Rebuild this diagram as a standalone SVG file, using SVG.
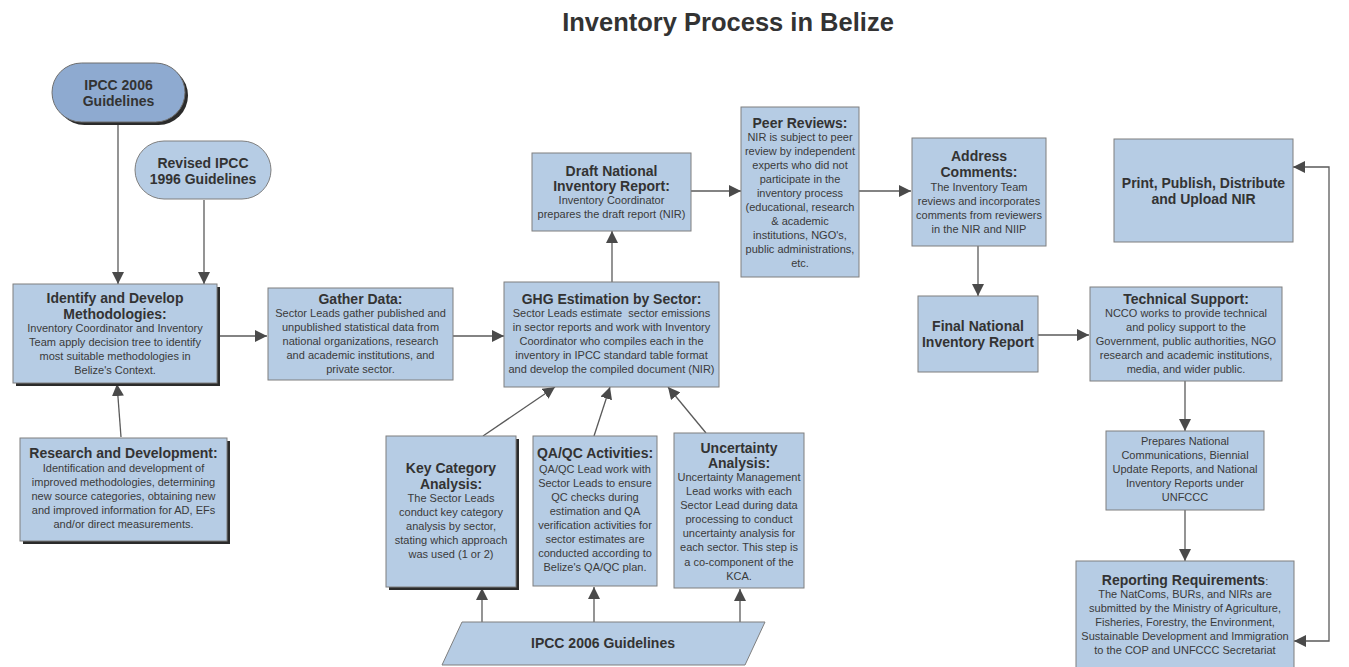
<svg xmlns="http://www.w3.org/2000/svg" width="1349" height="667" viewBox="0 0 1349 667">
<style>
.box{fill:#b6cce4;stroke:#7f7f7f;stroke-width:1}
.dark{fill:#8eaad0;stroke:#6f6f6f;stroke-width:1}
.sh{fill:#2b2b2b}
text{font-family:"Liberation Sans",Arial,sans-serif;fill:#333;text-anchor:middle}
.t{font-size:14px;font-weight:bold}
.b{font-size:11px;fill:#3a3a3a}
.ttl{font-size:25.5px;font-weight:bold}
.c{fill:none;stroke:#5a5a5a;stroke-width:1.3}
</style>
<defs>
<marker id="ah" viewBox="0 0 12 12" refX="12" refY="6" markerWidth="12" markerHeight="12" markerUnits="userSpaceOnUse" orient="auto-start-reverse">
<path d="M0,0 L12,6 L0,12 Z" fill="#4a4a4a"/>
</marker>
</defs>
<rect width="1349" height="667" fill="#ffffff"/>
<text class="ttl" x="728" y="31">Inventory Process in Belize</text>

<g id="connectors">
<line class="c" x1="118" y1="123" x2="118" y2="284" marker-end="url(#ah)"/>
<line class="c" x1="204" y1="200" x2="204" y2="284" marker-end="url(#ah)"/>
<line class="c" x1="121" y1="437" x2="117" y2="384" marker-end="url(#ah)"/>
<line class="c" x1="217" y1="336" x2="267" y2="336" marker-end="url(#ah)"/>
<line class="c" x1="453" y1="336" x2="504" y2="336" marker-end="url(#ah)"/>
<line class="c" x1="612" y1="282" x2="612" y2="231" marker-end="url(#ah)"/>
<line class="c" x1="691" y1="191" x2="741" y2="191" marker-end="url(#ah)"/>
<line class="c" x1="859" y1="191" x2="911" y2="191" marker-end="url(#ah)"/>
<line class="c" x1="978" y1="246" x2="978" y2="296" marker-end="url(#ah)"/>
<line class="c" x1="1038" y1="335" x2="1089" y2="335" marker-end="url(#ah)"/>
<line class="c" x1="1185" y1="381" x2="1185" y2="431" marker-end="url(#ah)"/>
<line class="c" x1="1185" y1="510" x2="1185" y2="561" marker-end="url(#ah)"/>
<path class="c" d="M1294,641 L1329,641 L1329,167 L1293,167" marker-start="url(#ah)" marker-end="url(#ah)"/>
<line class="c" x1="483" y1="436" x2="555" y2="387" marker-end="url(#ah)"/>
<line class="c" x1="594" y1="436" x2="610" y2="387" marker-end="url(#ah)"/>
<line class="c" x1="706" y1="433" x2="668" y2="387" marker-end="url(#ah)"/>
<line class="c" x1="482" y1="622" x2="482" y2="588" marker-end="url(#ah)"/>
<line class="c" x1="594" y1="622" x2="594" y2="587" marker-end="url(#ah)"/>
<line class="c" x1="740" y1="622" x2="740" y2="589" marker-end="url(#ah)"/>
</g>

<g id="ipcc2006">
<rect class="sh" x="55" y="66" width="133" height="59" rx="29.5"/>
<rect class="dark" x="52" y="63" width="133" height="59" rx="29.5"/>
<text class="t" x="118.5" y="90">IPCC 2006</text>
<text class="t" x="118.5" y="106">Guidelines</text>
</g>

<g id="revised">
<rect class="box" x="135" y="141" width="136" height="58" rx="29"/>
<text class="t" x="203" y="168">Revised IPCC</text>
<text class="t" x="203" y="184">1996 Guidelines</text>
</g>

<g id="identify">
<rect class="sh" x="16" y="287" width="204" height="99"/>
<rect class="box" x="13" y="284" width="204" height="99"/>
<text class="t" x="115" y="303">Identify and Develop</text>
<text class="t" x="115" y="319">Methodologies:</text>
<text class="b" x="115" y="332">Inventory Coordinator and Inventory</text>
<text class="b" x="115" y="346">Team apply decision tree to identify</text>
<text class="b" x="115" y="360">most suitable methodologies in</text>
<text class="b" x="115" y="374">Belize's Context.</text>
</g>

<g id="research">
<rect class="sh" x="23" y="441" width="207" height="103"/>
<rect class="box" x="20" y="438" width="207" height="103"/>
<text class="t" x="123.5" y="458">Research and Development:</text>
<text class="b" x="123.5" y="472">Identification and development of</text>
<text class="b" x="123.5" y="486">improved methodologies, determining</text>
<text class="b" x="123.5" y="500">new source categories, obtaining new</text>
<text class="b" x="123.5" y="514">and improved information for AD, EFs</text>
<text class="b" x="123.5" y="528">and/or direct measurements.</text>
</g>

<g id="gather">
<rect class="box" x="268" y="288" width="185" height="92"/>
<text class="t" x="360.5" y="304">Gather Data:</text>
<text class="b" x="360.5" y="317">Sector Leads gather published and</text>
<text class="b" x="360.5" y="331">unpublished statistical data from</text>
<text class="b" x="360.5" y="345">national organizations, research</text>
<text class="b" x="360.5" y="359">and academic institutions, and</text>
<text class="b" x="360.5" y="373">private sector.</text>
</g>

<g id="ghg">
<rect class="box" x="504" y="282" width="215" height="105"/>
<text class="t" x="611.5" y="304">GHG Estimation by Sector:</text>
<text class="b" x="611.5" y="317">Sector Leads estimate&#160; sector emissions</text>
<text class="b" x="611.5" y="331">in sector reports and work with Inventory</text>
<text class="b" x="611.5" y="345">Coordinator who compiles each in the</text>
<text class="b" x="611.5" y="359">inventory in IPCC standard table format</text>
<text class="b" x="611.5" y="373">and develop the compiled document (NIR)</text>
</g>

<g id="draft">
<rect class="box" x="532" y="153" width="159" height="78"/>
<text class="t" x="611.5" y="176">Draft National</text>
<text class="t" x="611.5" y="191">Inventory Report:</text>
<text class="b" x="611.5" y="204">Inventory Coordinator</text>
<text class="b" x="611.5" y="218">prepares the draft report (NIR)</text>
</g>

<g id="peer">
<rect class="box" x="741" y="107" width="118" height="170"/>
<text class="t" x="800" y="128">Peer Reviews:</text>
<text class="b" x="800" y="141">NIR is subject to peer</text>
<text class="b" x="800" y="155">review by independent</text>
<text class="b" x="800" y="169">experts who did not</text>
<text class="b" x="800" y="183">participate in the</text>
<text class="b" x="800" y="197">inventory process</text>
<text class="b" x="800" y="211">(educational, research</text>
<text class="b" x="800" y="225">&amp; academic</text>
<text class="b" x="800" y="239">institutions, NGO's,</text>
<text class="b" x="800" y="253">public administrations,</text>
<text class="b" x="800" y="267">etc.</text>
</g>

<g id="address">
<rect class="box" x="912" y="138" width="134" height="108"/>
<text class="t" x="979" y="161">Address</text>
<text class="t" x="979" y="177">Comments:</text>
<text class="b" x="979" y="191">The Inventory Team</text>
<text class="b" x="979" y="205">reviews and incorporates</text>
<text class="b" x="979" y="219">comments from reviewers</text>
<text class="b" x="979" y="233">in the NIR and NIIP</text>
</g>

<g id="final">
<rect class="box" x="918" y="296" width="120" height="76"/>
<text class="t" x="978" y="331">Final National</text>
<text class="t" x="978" y="347">Inventory Report</text>
</g>

<g id="print">
<rect class="box" x="1114" y="139" width="179" height="103"/>
<text class="t" x="1203.5" y="188">Print, Publish, Distribute</text>
<text class="t" x="1203.5" y="204">and Upload NIR</text>
</g>

<g id="technical">
<rect class="box" x="1090" y="287" width="192" height="94"/>
<text class="t" x="1186" y="304">Technical Support:</text>
<text class="b" x="1186" y="317">NCCO works to provide technical</text>
<text class="b" x="1186" y="331">and policy support to the</text>
<text class="b" x="1186" y="345">Government, public authorities, NGO</text>
<text class="b" x="1186" y="359">research and academic institutions,</text>
<text class="b" x="1186" y="373">media, and wider public.</text>
</g>

<g id="prepares">
<rect class="box" x="1106" y="431" width="158" height="79"/>
<text class="b" x="1185" y="445">Prepares National</text>
<text class="b" x="1185" y="459">Communications, Biennial</text>
<text class="b" x="1185" y="473">Update Reports, and National</text>
<text class="b" x="1185" y="487">Inventory Reports under</text>
<text class="b" x="1185" y="501">UNFCCC</text>
</g>

<g id="reporting">
<rect class="box" x="1076" y="561" width="218" height="120"/>
<text x="1185" y="585"><tspan class="t">Reporting Requirements</tspan><tspan class="b">:</tspan></text>
<text class="b" x="1185" y="598">The NatComs, BURs, and NIRs are</text>
<text class="b" x="1185" y="612">submitted by the Ministry of Agriculture,</text>
<text class="b" x="1185" y="626">Fisheries, Forestry, the Environment,</text>
<text class="b" x="1185" y="640">Sustainable Development and Immigration</text>
<text class="b" x="1185" y="654">to the COP and UNFCCC Secretariat</text>
</g>

<g id="keycategory">
<rect class="sh" x="389" y="439" width="130" height="151"/>
<rect class="box" x="386" y="436" width="130" height="151"/>
<text class="t" x="451" y="473">Key Category</text>
<text class="t" x="451" y="489">Analysis:</text>
<text class="b" x="451" y="502">The Sector Leads</text>
<text class="b" x="451" y="516">conduct key category</text>
<text class="b" x="451" y="530">analysis by sector,</text>
<text class="b" x="451" y="544">stating which approach</text>
<text class="b" x="451" y="558">was used (1 or 2)</text>
</g>

<g id="qaqc">
<rect class="box" x="533" y="436" width="124" height="150"/>
<text class="t" x="595" y="458">QA/QC Activities:</text>
<text class="b" x="595" y="473">QA/QC Lead work with</text>
<text class="b" x="595" y="487">Sector Leads to ensure</text>
<text class="b" x="595" y="501">QC checks during</text>
<text class="b" x="595" y="515">estimation and QA</text>
<text class="b" x="595" y="529">verification activities for</text>
<text class="b" x="595" y="543">sector estimates are</text>
<text class="b" x="595" y="557">conducted according to</text>
<text class="b" x="595" y="571">Belize's QA/QC plan.</text>
</g>

<g id="uncertainty">
<rect class="box" x="674" y="433" width="130" height="155"/>
<text class="t" x="739" y="453">Uncertainty</text>
<text class="t" x="739" y="468">Analysis:</text>
<text class="b" x="739" y="481">Uncertainty Management</text>
<text class="b" x="739" y="495">Lead works with each</text>
<text class="b" x="739" y="509">Sector Lead during data</text>
<text class="b" x="739" y="523">processing to conduct</text>
<text class="b" x="739" y="537">uncertainty analysis for</text>
<text class="b" x="739" y="551">each sector. This step is</text>
<text class="b" x="739" y="566">a co-component of the</text>
<text class="b" x="739" y="580">KCA.</text>
</g>

<g id="ipcc2006bottom">
<polygon class="box" points="462,622 765,622 745,665 442,665"/>
<text class="t" x="603" y="648">IPCC 2006 Guidelines</text>
</g>
</svg>
